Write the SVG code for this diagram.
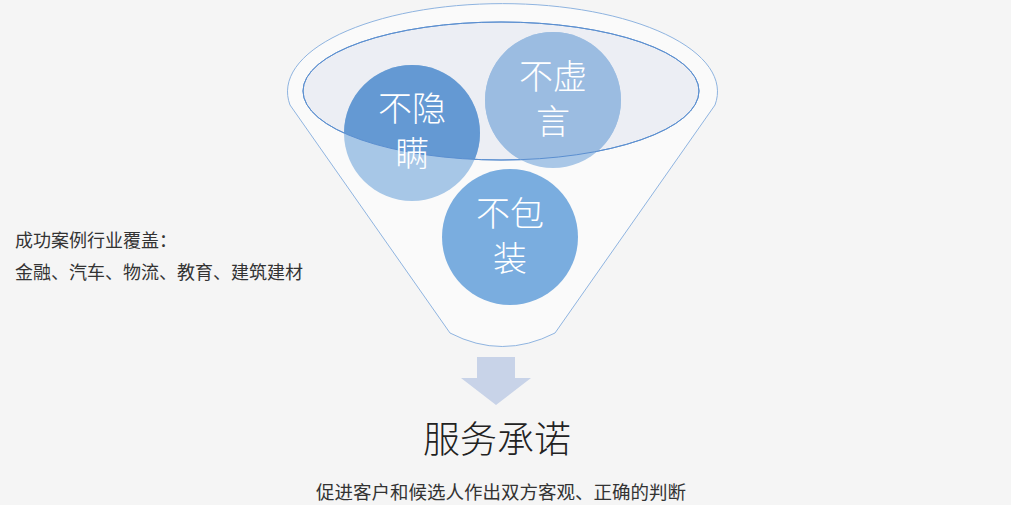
<svg xmlns="http://www.w3.org/2000/svg" width="1011" height="505" viewBox="0 0 1011 505">
<style>
text{font-family:"Noto Sans CJK SC","Liberation Sans",sans-serif}
.c{fill:#fff;font-size:34px;text-anchor:middle;font-weight:300}
.l{fill:#333;font-size:18px}
</style>
<defs>
<clipPath id="ie"><ellipse cx="501" cy="91" rx="198" ry="69"/></clipPath>
</defs>
<rect width="1011" height="505" fill="#f5f5f5"/>
<g id="funnel">
<path d="M290,105 L450,333 Q502,360 555,333 L715,105 A215,88 0 1 0 290,105 Z" fill="#fafafa" stroke="#8fb4e0" stroke-width="1"/>
<ellipse cx="501" cy="91" rx="198" ry="69" fill="#eceef4" stroke="#5b8fd0" stroke-width="1"/>
</g>
<g id="n1"><circle cx="412" cy="133" r="68" fill="#a7c7e7"/><circle cx="412" cy="133" r="68" fill="#6499d3" clip-path="url(#ie)"/></g>
<g id="n2"><circle cx="553" cy="100" r="68" fill="#a9c7e7"/><circle cx="553" cy="100" r="68" fill="#9bbce1" clip-path="url(#ie)"/></g>
<g id="n3"><circle cx="510" cy="237" r="68" fill="#7aaddf"/></g>
<ellipse cx="501" cy="91" rx="198" ry="69" fill="none" stroke="#5b8fd0" stroke-width="1"/>
<g id="labels">
<text class="c" x="412" y="121">不隐</text><text class="c" x="412" y="166">瞒</text>
<text class="c" x="553" y="89">不虚</text><text class="c" x="553" y="134">言</text>
<text class="c" x="510" y="226">不包</text><text class="c" x="510" y="271">装</text>
</g>
<g id="connectors">
<path d="M477,357 H515 V378 H531 L496,405 L461,378 H477 Z" fill="#c8d3e8"/>
</g>
<g id="text">
<text class="l" x="15" y="247">成功案例行业覆盖：</text>
<text class="l" x="15" y="279">金融、汽车、物流、教育、建筑建材</text>
<text x="497" y="453" font-size="37" fill="#222" text-anchor="middle" font-weight="300">服务承诺</text>
<text x="501" y="499" font-size="18.5" fill="#333" text-anchor="middle">促进客户和候选人作出双方客观、正确的判断</text>
</g>
</svg>
